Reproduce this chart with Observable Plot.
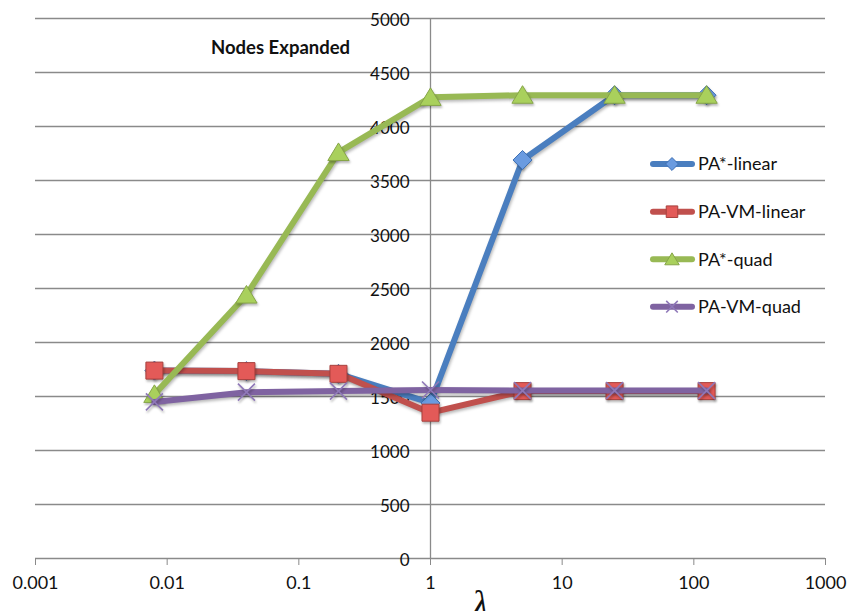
<!DOCTYPE html>
<html>
<head>
<meta charset="utf-8">
<script src="https://cdn.jsdelivr.net/npm/d3@7"></script>
<script src="https://cdn.jsdelivr.net/npm/@observablehq/plot@0.6"></script>
<style>
  body { margin: 0; background: #fff; }
  #wrap { position: relative; width: 859px; height: 611px; overflow: hidden; font-family: Lato, sans-serif; }
  #wrap svg.plot { position: absolute; left: 0; top: 0; }
  #title { position: absolute; left: 211px; top: 36px; font: bold 18.5px Lato, sans-serif; color: #111; white-space: nowrap; }
  #lambda { position: absolute; left: 472px; top: 582px; font: italic 38px "Liberation Serif", "DejaVu Serif", serif; color: #111; }
  #legend { position: absolute; left: 640px; top: 140px; }
  g[aria-label="line"] path { filter: drop-shadow(1px 2px 1.5px rgba(0,0,0,0.28)); }
  g[aria-label="dot"] path { filter: drop-shadow(1px 2px 1.2px rgba(0,0,0,0.28)); }
</style>
</head>
<body>
<div id="wrap">
  <div id="title">Nodes Expanded</div>
  <div id="lambda">λ</div>
</div>
<script>
// ---- data ----
const lambdas = [0.008, 0.04, 0.2, 1, 5, 25, 125];
const paStarLinear = [1740, 1735, 1710, 1440, 3690, 4290, 4290];
const paVmLinear   = [1740, 1735, 1710, 1350, 1550, 1550, 1550];
const paStarQuad   = [1520, 2440, 3760, 4270, 4290, 4290, 4290];
const paVmQuad     = [1450, 1540, 1550, 1560, 1555, 1555, 1555];
const seriesNames  = ["PA*-linear", "PA-VM-linear", "PA*-quad", "PA-VM-quad"];
const xTicks       = [0.001, 0.01, 0.1, 1, 10, 100, 1000];
const xTickLabels  = ["0.001", "0.01", "0.1", "1", "10", "100", "1000"];
const yTicks       = [0, 500, 1000, 1500, 2000, 2500, 3000, 3500, 4000, 4500, 5000];
const yAxisCrossing = 1;

// ---- symbols ----
const rad = size => Math.sqrt(size / Math.PI);
const diamond = { draw(c, s) { const r = rad(s); c.moveTo(0, -r); c.lineTo(r, 0); c.lineTo(0, r); c.lineTo(-r, 0); c.closePath(); } };
const square = { draw(c, s) { const r = rad(s); c.rect(-r, -r, 2 * r, 2 * r); } };
const triangle = { draw(c, s) { const r = rad(s); c.moveTo(0, -r); c.lineTo(r * 1.12, r * 0.85); c.lineTo(-r * 1.12, r * 0.85); c.closePath(); } };
const cross = { draw(c, s) { const r = rad(s); c.moveTo(-r, -r); c.lineTo(r, r); c.moveTo(-r, r); c.lineTo(r, -r); } };

const styles = [
  { line: "#4a7ebf", fill: "#6a9be0", stroke: "#3f70b3", symbol: diamond, r: 9.5, sw: 1 },
  { line: "#c0504d", fill: "#e35a58", stroke: "#a8403d", symbol: square, r: 8.5, sw: 1 },
  { line: "#98b954", fill: "#a9d05c", stroke: "#86a548", symbol: triangle, r: 9.5, sw: 1 },
  { line: "#7f63a1", fill: "none", stroke: "#8f78b8", symbol: cross, r: 8.5, sw: 1.6 }
];
const seriesValues = [paStarLinear, paVmLinear, paStarQuad, paVmQuad];
const rows = seriesValues.map(vals => lambdas.map((l, i) => ({ lambda: l, value: vals[i] })));

const marks = [
  Plot.gridY(yTicks, { stroke: "#8a8a8a", strokeOpacity: 1, strokeWidth: 1.3 }),
  Plot.ruleX([yAxisCrossing], { stroke: "#8a8a8a", strokeWidth: 1.3 }),
  Plot.axisX({ ticks: xTicks, tickFormat: d => xTickLabels[xTicks.indexOf(d)], tickSize: 7, tickPadding: 11,
               stroke: "#8a8a8a", fill: "#111", fontSize: 18, label: null }),
  Plot.text(yTicks, { x: () => yAxisCrossing, y: d => d, text: d => String(d), textAnchor: "end",
                      dx: -21, dy: 2, fontSize: 17, fill: "#111" })
];
rows.forEach((data, k) => {
  const s = styles[k];
  marks.push(Plot.line(data, { x: "lambda", y: "value", stroke: s.line, strokeWidth: 6 }));
  marks.push(Plot.dot(data, { x: "lambda", y: "value", symbol: () => s.symbol, r: s.r,
                              fill: s.fill, stroke: s.stroke, strokeWidth: s.sw, fillOpacity: 1 }));
});

const chart = Plot.plot({
  width: 859, height: 611,
  marginLeft: 35, marginRight: 34, marginTop: 18, marginBottom: 53,
  x: { type: "log", domain: [0.001, 1000] },
  y: { domain: [0, 5000], axis: null },
  symbol: { type: "identity" },
  style: { fontFamily: "Lato, sans-serif", fontSize: "18px", background: "transparent", overflow: "visible" },
  marks
});
const wrap = document.getElementById("wrap");
wrap.insertBefore(chart, wrap.firstChild);

// ---- legend ----
const lg = d3.select(wrap).append("svg").attr("id", "legend").attr("width", 219).attr("height", 190);
const rowY = [24, 71.7, 119.3, 166.7];
seriesNames.forEach((name, k) => {
  const s = styles[k];
  const g = lg.append("g").attr("transform", `translate(0,${rowY[k]})`);
  g.append("line").attr("x1", 13).attr("x2", 52).attr("stroke", s.line).attr("stroke-width", 6).attr("stroke-linecap", "round");
  g.append("path").attr("transform", "translate(32,0)")
    .attr("d", d3.symbol(s.symbol, Math.PI * (s.r * 0.68) ** 2)())
    .attr("fill", s.fill).attr("stroke", s.stroke).attr("stroke-width", s.sw);
  g.append("text").attr("x", 58).attr("dy", "0.36em").attr("font-family", "Lato, sans-serif")
    .attr("font-size", 18).attr("fill", "#111").text(name);
});
</script>
</body>
</html>
